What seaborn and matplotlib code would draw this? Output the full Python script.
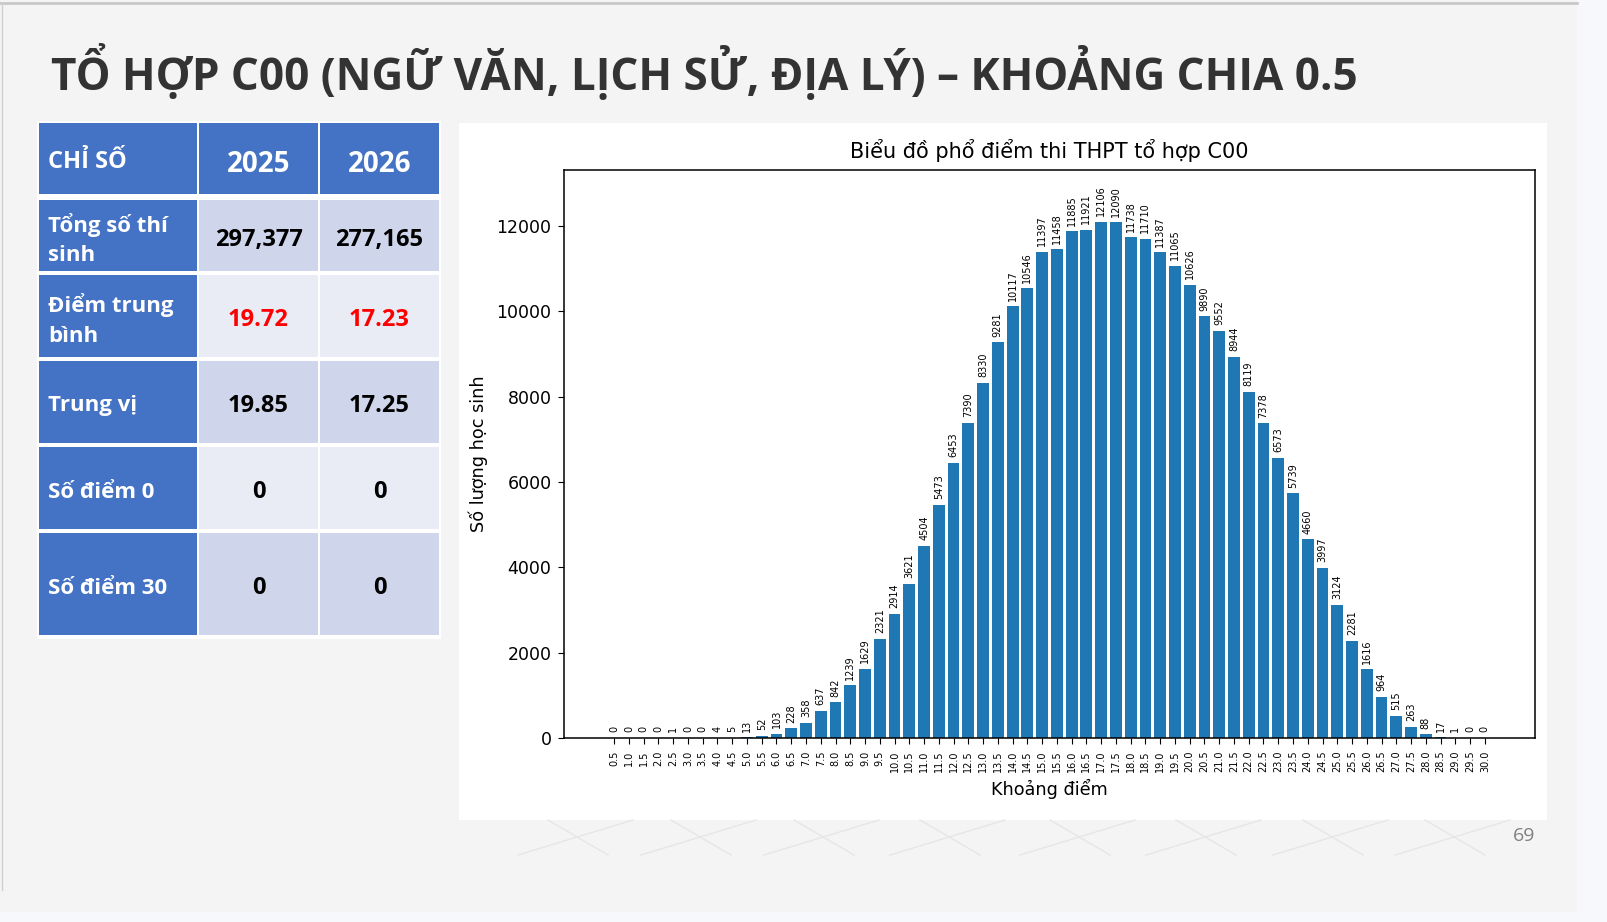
import seaborn as sns
import matplotlib.pyplot as plt
from matplotlib.patches import Rectangle
from matplotlib.lines import Line2D

# score bins and counts (C00, step 0.5)
bins = [f"{i * 0.5:.1f}" for i in range(1, 61)]
counts = [0, 0, 0, 0, 1, 0, 0, 4, 5, 13,
          52, 103, 228, 358, 637, 842, 1239, 1629, 2321, 2914,
          3621, 4504, 5473, 6453, 7390, 8330, 9281, 10117, 10546, 11397,
          11458, 11885, 11921, 12106, 12090, 11738, 11710, 11387, 11065, 10626,
          9890, 9552, 8944, 8119, 7378, 6573, 5739, 4660, 3997, 3124,
          2281, 1616, 964, 515, 263, 88, 17, 1, 0, 0]

# summary table
row_names = ["Tổng số thí\nsinh", "Điểm trung\nbình", "Trung vị", "Số điểm 0", "Số điểm 30"]
years = ["2025", "2026"]
vals_2025 = ["297,377", "19.72", "19.85", "0", "0"]
vals_2026 = ["277,165", "17.23", "17.25", "0", "0"]

W, H = 1608, 922
fig = plt.figure(figsize=(W / 100, H / 100), dpi=100, facecolor="#f4f4f4")


def box(x0, y0, x1, y1, color, z=0):
    # rectangle given in pixel coords from top-left
    fig.patches.append(Rectangle((x0 / W, 1 - y1 / H), (x1 - x0) / W, (y1 - y0) / H,
                                 transform=fig.transFigure, facecolor=color,
                                 edgecolor="none", zorder=z))


def txt(x, y, s, **kw):
    fig.text(x / W, 1 - y / H, s, **kw)


def seg(x0, y0, x1, y1, **kw):
    fig.add_artist(Line2D([x0 / W, x1 / W], [1 - y0 / H, 1 - y1 / H], **kw))


# slide frame
box(1577, 0, W, H, "#f6f8fc", z=-5)
box(0, 912, W, H, "#f6f8fc", z=-5)
seg(0, 3, 1577, 3, color="#c8c8c8", lw=2)
seg(2, 3, 2, 890, color="#d0d0d0", lw=1)

# faint decoration
for cx in [578, 701, 824, 950, 1080, 1206, 1333, 1455]:
    seg(cx - 60, 855, cx + 55, 820, color="#e6e6e6", lw=1)
    seg(cx - 30, 820, cx + 30, 855, color="#e6e6e6", lw=1)

txt(51, 73, "TỔ HỢP C00 (NGỮ VĂN, LỊCH SỬ, ĐỊA LÝ) – KHOẢNG CHIA 0.5",
    family="Open Sans", weight="bold", fontsize=31.7, color="#333333", va="center", ha="left")
txt(1535, 836, "69", family="Open Sans", fontsize=14, color="#808080", ha="right", va="center")

# table
cols = [(39, 197), (199, 318), (320, 439)]
rows = [(123, 196), (200, 273), (275, 359), (361, 445), (447, 531), (533, 637)]
box(37, 121, 441, 639, "white")
blue = "#4472c4"
for ri, (y0, y1) in enumerate(rows):
    for ci, (x0, x1) in enumerate(cols):
        if ri == 0 or ci == 0:
            c = blue
        else:
            c = "#cfd5ea" if ri % 2 == 1 else "#e9ebf5"
        box(x0, y0, x1, y1 - 2, c, z=1)

fkw = dict(family="Open Sans", weight="bold", va="center", zorder=3)
txt(48, 162, "CHỈ SỐ", color="white", fontsize=17, ha="left", **fkw)
for ci, yr in enumerate(years):
    x0, x1 = cols[ci + 1]
    txt((x0 + x1) / 2, 164, yr, color="white", fontsize=20, ha="center", **fkw)
for ri, name in enumerate(row_names):
    y0, y1 = rows[ri + 1]
    yc = (y0 + y1) / 2 + 3
    txt(48, yc, name, color="white", fontsize=16, ha="left", linespacing=1.55, **fkw)
    for ci, v in enumerate([vals_2025[ri], vals_2026[ri]]):
        x0, x1 = cols[ci + 1]
        col = "red" if ri == 1 else "black"
        txt((x0 + x1) / 2, yc, v, color=col, fontsize=17, ha="center", **fkw)

# chart panel
box(459, 123, 1547, 820, "white", z=-1)
ax = fig.add_axes([564 / W, 1 - 738 / H, (1535 - 564) / W, (738 - 170) / H])
ax.set_zorder(5)
ax.set_facecolor("white")
sns.barplot(x=bins, y=counts, color="#1f77b4", saturation=1, width=0.8, ax=ax)
ax.bar_label(ax.containers[0], rotation=90, fontsize=7, padding=4)
ax.set_xlim(-3.4, 62.4)
ax.set_ylim(0, max(counts) * 1.1)
ax.tick_params(axis="x", labelrotation=90, labelsize=7, length=4.5, pad=4.5)
ax.tick_params(axis="y", labelsize=12.5, length=4.5, pad=4.5)
ax.set_title("Biểu đồ phổ điểm thi THPT tổ hợp C00", fontsize=15, pad=9)
ax.set_xlabel("Khoảng điểm", fontsize=12.7, labelpad=5)
ax.set_ylabel("Số lượng học sinh", fontsize=12.7, labelpad=6)
for s in ax.spines.values():
    s.set_color("black")
    s.set_linewidth(1.1)

fig.savefig("out.png", dpi=100, facecolor=fig.get_facecolor())
